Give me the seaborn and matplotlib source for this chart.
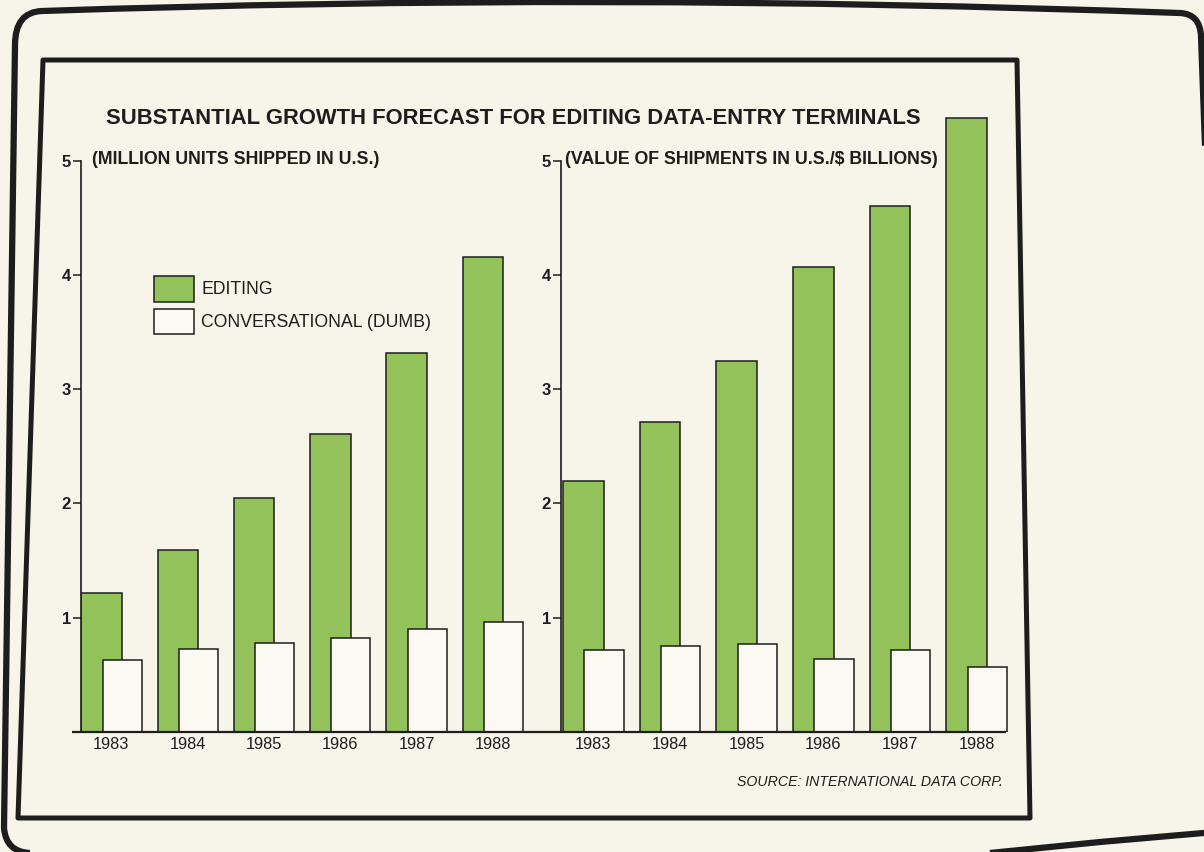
import numpy as np
import pandas as pd
import matplotlib
matplotlib.use("Agg")
import matplotlib.pyplot as plt
from matplotlib.path import Path
from matplotlib.patches import PathPatch, Polygon
from matplotlib.lines import Line2D
import seaborn as sns

# ---- data -------------------------------------------------------------
YEARS = [1983, 1984, 1985, 1986, 1987, 1988]
YEAR_LABELS = ["1983", "1984", "1985", "1986", "1987", "1988"]

# million units shipped in U.S.
UNITS_EDITING = [1.22, 1.59, 2.05, 2.61, 3.32, 4.16]
UNITS_CONVERSATIONAL = [0.63, 0.73, 0.78, 0.82, 0.90, 0.96]

# value of shipments in U.S., $ billions
VALUE_EDITING = [2.20, 2.71, 3.25, 4.07, 4.60, 5.37]
VALUE_CONVERSATIONAL = [0.72, 0.75, 0.77, 0.64, 0.72, 0.57]

Y_TICKS = [1, 2, 3, 4, 5]

TITLE = "SUBSTANTIAL GROWTH FORECAST FOR EDITING DATA-ENTRY TERMINALS"
LEFT_SUBTITLE = "(MILLION UNITS SHIPPED IN U.S.)"
RIGHT_SUBTITLE = "(VALUE OF SHIPMENTS IN U.S./$ BILLIONS)"
SERIES_NAMES = ["EDITING", "CONVERSATIONAL (DUMB)"]
SOURCE = "SOURCE: INTERNATIONAL DATA CORP."

units = pd.DataFrame({"year": YEARS, "editing": UNITS_EDITING,
                      "conversational": UNITS_CONVERSATIONAL})
value = pd.DataFrame({"year": YEARS, "editing": VALUE_EDITING,
                      "conversational": VALUE_CONVERSATIONAL})

# ---- style ------------------------------------------------------------
sns.set_style("ticks")
plt.rcParams["font.family"] = ["Liberation Sans", "DejaVu Sans"]
plt.rcParams["text.color"] = "#1d1d1d"

PAPER = "#f7f4ea"
GREEN = "#93c25a"
BAR_WHITE = "#fbf9f2"
INK = "#1d1d1d"

W, H = 1204, 852
fig = plt.figure(figsize=(W / 100, H / 100), dpi=100, facecolor=PAPER)


def fx(x):
    return x / W


def fy(y):
    return 1 - y / H


def panel(rect_px, xlim, ylim, data, subtitle, sub_x):
    x0, top, x1, bottom = rect_px
    ax = fig.add_axes([fx(x0), fy(bottom), fx(x1) - fx(x0), fy(top) - fy(bottom)])
    ax.set_facecolor("none")
    pos = np.asarray(data["year"], dtype=float)
    sns.barplot(x=pos - 0.13, y=data["editing"].to_numpy(), native_scale=True,
                width=0.53, color=GREEN, saturation=1, edgecolor=INK,
                linewidth=1.1, errorbar=None, label=SERIES_NAMES[0], ax=ax)
    sns.barplot(x=pos + 0.14, y=data["conversational"].to_numpy(), native_scale=True,
                width=0.51, color=BAR_WHITE, saturation=1, edgecolor=INK,
                linewidth=1.1, errorbar=None, label=SERIES_NAMES[1], ax=ax)
    ax.set_xlim(*xlim)
    ax.set_ylim(*ylim)
    for side in ("top", "right", "bottom"):
        ax.spines[side].set_visible(False)
    ax.spines["left"].set_bounds(0, 5)
    ax.spines["left"].set_linewidth(1.2)
    ax.spines["left"].set_color(INK)
    ax.set_yticks(Y_TICKS)
    ax.set_yticklabels([str(t) for t in Y_TICKS], fontweight="bold")
    ax.set_xticks(YEARS)
    ax.set_xticklabels(YEAR_LABELS)
    ax.tick_params(axis="y", direction="out", length=5.5, width=1.1,
                   pad=1.5, labelsize=12, colors=INK)
    ax.tick_params(axis="x", length=0, pad=3.5, labelsize=11.8, colors=INK)
    ax.set_xlabel("")
    ax.set_ylabel("")
    if ax.get_legend() is not None:
        ax.get_legend().remove()
    fig.text(fx(sub_x), fy(160), subtitle, fontsize=12.8, fontweight="bold",
             ha="left", va="center")
    return ax


ax_units = panel((80.7, 160.7, 560, 732), (1982.598, 1988.88), (0, 5),
                 units, LEFT_SUBTITLE, 92)
ax_value = panel((560.7, 103.6, 1030, 732), (1982.576, 1988.695), (0, 5.5),
                 value, RIGHT_SUBTITLE, 565)

# legend for both panels, placed in the left one
handles, labels = ax_units.get_legend_handles_labels()
ax_units.legend(handles, labels, loc="upper left",
                bbox_to_anchor=(fx(154), fy(276)), bbox_transform=fig.transFigure,
                frameon=False, fontsize=12.7, handlelength=2.27, handleheight=1.85,
                labelspacing=0.42, handletextpad=0.42, borderpad=0,
                borderaxespad=0)

# common baseline under both panels
fig.add_artist(Line2D([fx(72), fx(1006)], [fy(732), fy(732)],
                      color=INK, lw=1.6, solid_capstyle="butt"))

# headings and credit
fig.text(fx(513.5), fy(118), TITLE, fontsize=15.8, fontweight="bold",
         ha="center", va="center")
fig.text(fx(1003), fy(782), SOURCE, fontsize=10.2, style="italic",
         ha="right", va="center")

# inner panel border
inner = Polygon([(fx(43), fy(60)), (fx(1017), fy(60)), (fx(1030), fy(818)),
                 (fx(18), fy(818))], closed=True, fill=False, edgecolor=INK,
                lw=3.6, joinstyle="round", transform=fig.transFigure)
fig.add_artist(inner)

# outer screen border
pts = [(1215, 832), (1100, 842), (960, 856), (30, 853), (6, 852), (4, 828),
       (15, 45), (15, 12), (42, 11), (600, -8), (1180, 13), (1200, 14),
       (1201, 36), (1215, 420), (1215, 832)]
codes = [Path.MOVETO, Path.LINETO, Path.LINETO, Path.LINETO, Path.CURVE3,
         Path.CURVE3, Path.LINETO, Path.CURVE3, Path.CURVE3, Path.CURVE3,
         Path.CURVE3, Path.CURVE3, Path.CURVE3, Path.LINETO, Path.LINETO]
outer = PathPatch(Path([(fx(x), fy(y)) for x, y in pts], codes), fill=False,
                  edgecolor=INK, lw=4.5, joinstyle="round",
                  transform=fig.transFigure)
fig.add_artist(outer)

fig.savefig("out.png", dpi=100, facecolor=PAPER)
